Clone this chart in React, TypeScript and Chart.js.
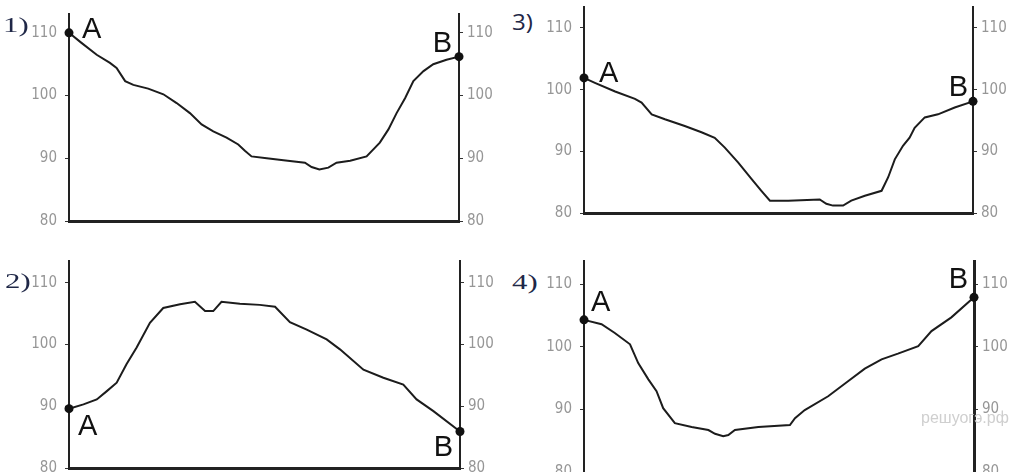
import React, { useEffect, useRef } from "react";
import { Chart, registerables } from "chart.js";

Chart.register(...registerables);

// ---- data ----
const yTicks = [80, 90, 100, 110];
const endLabels = ["A", "B"];
const panelNames = ["1)", "2)", "3)", "4)"];
const watermark = "решуогэ.рф";

// panel 1
const p1Dist = [0, 3.2, 7.1, 10.5, 12.2, 14.4, 16.5, 20.3, 24.2, 27.6, 31.0, 34.0, 37.0, 40.4, 43.4, 45.1, 46.8, 50.7, 55.0, 60.5, 62.2, 64.2, 66.5, 68.6, 72.1, 76.3, 79.7, 81.9, 84.0, 86.2, 88.3, 90.9, 93.4, 96.8, 100];
const p1Elev = [110, 108.4, 106.5, 105.2, 104.4, 102.3, 101.7, 101.1, 100.2, 98.8, 97.2, 95.4, 94.3, 93.3, 92.2, 91.2, 90.3, 90.0, 89.7, 89.3, 88.6, 88.2, 88.5, 89.3, 89.6, 90.3, 92.5, 94.6, 97.2, 99.6, 102.3, 103.9, 105.0, 105.7, 106.2];

// panel 2
const p2Dist = [0, 3.7, 7.1, 9.6, 12.2, 14.7, 17.3, 20.7, 24.1, 28.4, 32.2, 34.8, 36.9, 39.0, 43.7, 48.8, 52.7, 56.5, 60.8, 65.9, 69.3, 75.3, 80.4, 85.5, 88.9, 93.2, 100];
const p2Elev = [89.6, 90.3, 91.1, 92.4, 93.8, 96.8, 99.5, 103.5, 105.9, 106.5, 106.9, 105.4, 105.4, 106.9, 106.6, 106.4, 106.1, 103.6, 102.4, 100.8, 99.2, 95.9, 94.6, 93.5, 91.1, 89.2, 85.9];

// panel 3
const p3Dist = [0, 2.8, 8.0, 13.1, 14.8, 17.4, 20.8, 25.9, 30.2, 33.6, 36.2, 39.6, 43.1, 45.6, 47.8, 52.5, 60.6, 62.3, 64.0, 66.6, 68.7, 72.2, 76.5, 78.2, 79.9, 82.0, 83.7, 85.0, 87.6, 91.0, 95.3, 100];
const p3Elev = [101.9, 101.1, 99.7, 98.5, 97.9, 96.0, 95.2, 94.1, 93.1, 92.2, 90.6, 88.2, 85.5, 83.6, 82.0, 82.0, 82.2, 81.5, 81.2, 81.2, 82.0, 82.8, 83.6, 85.8, 88.7, 90.9, 92.2, 93.8, 95.5, 96.0, 97.1, 98.1];

// panel 4
const p4Dist = [0, 4.5, 7.9, 11.8, 13.9, 16.5, 18.6, 20.3, 23.3, 27.6, 31.9, 33.6, 35.7, 37.0, 38.7, 44.7, 52.8, 54.1, 56.6, 62.6, 67.7, 72.0, 76.3, 80.5, 85.7, 89.1, 94.2, 100];
const p4Elev = [104.3, 103.6, 102.2, 100.4, 97.4, 94.8, 92.9, 90.2, 87.8, 87.2, 86.7, 86.1, 85.7, 85.9, 86.7, 87.2, 87.5, 88.6, 89.9, 92.1, 94.5, 96.5, 98.0, 98.9, 100.1, 102.5, 104.7, 107.9];

// ---- layout (chart-area frames in page px) ----
const AXIS_W = 45;
const X_H = 14;
const PAD_T = 10;

type Frame = {
  L: number; R: number; T: number; B: number; yMax: number;
  ax: number; ay: number; bx: number; by: number;
  bottomLine: boolean; rightW: number;
  nameX: number; nameY: number; nameFont: string;
};

const SERIF = '"Liberation Serif", "DejaVu Serif", serif';
const SANS = '"Open Sans", "Liberation Sans", sans-serif';

const frames: Frame[] = [
  { L: 69, R: 459, T: 14, B: 221, yMax: 113, ax: 13, ay: 5, bx: -7, by: -5, bottomLine: true, rightW: 2, nameX: 3, nameY: 14, nameFont: SERIF },
  { L: 69, R: 460, T: 261, B: 468, yMax: 113.5, ax: 9, ay: 26, bx: -7, by: 24, bottomLine: true, rightW: 2, nameX: 5, nameY: 270, nameFont: SERIF },
  { L: 584, R: 973, T: 7, B: 213, yMax: 113.4, ax: 15, ay: 4, bx: -5, by: -5, bottomLine: true, rightW: 2, nameX: 512, nameY: 11, nameFont: SANS },
  { L: 584, R: 974, T: 261, B: 472, yMax: 113.7, ax: 7, ay: -9, bx: -6, by: -9, bottomLine: false, rightW: 3, nameX: 512, nameY: 271, nameFont: SERIF },
];

const series = [
  { dist: p1Dist, elev: p1Elev },
  { dist: p2Dist, elev: p2Elev },
  { dist: p3Dist, elev: p3Elev },
  { dist: p4Dist, elev: p4Elev },
];

const TICK_FONT = '"Liberation Sans Narrow", "DejaVu Sans Condensed", "Liberation Sans", sans-serif';

function makeChart(canvas: HTMLCanvasElement, idx: number) {
  const f = frames[idx];
  const s = series[idx];
  const n = s.dist.length;

  const abPlugin = {
    id: "abLabels" + idx,
    afterDatasetsDraw(chart: any) {
      const pts = chart.getDatasetMeta(0).data;
      const a = pts[0];
      const b = pts[pts.length - 1];
      const ctx = chart.ctx;
      ctx.save();
      ctx.font = '29px "Liberation Sans", Arial, sans-serif';
      ctx.fillStyle = "#111";
      ctx.textBaseline = "alphabetic";
      ctx.textAlign = "left";
      ctx.fillText(endLabels[0], a.x + f.ax, a.y + f.ay);
      ctx.textAlign = "right";
      ctx.fillText(endLabels[1], b.x + f.bx, b.y + f.by);
      ctx.restore();
    },
  };

  const yAxis = (position: "left" | "right", pad: number, bw: number) => ({
    type: "linear",
    position,
    min: 80,
    max: f.yMax,
    afterBuildTicks: (sc: any) => {
      sc.ticks = yTicks.map((v) => ({ value: v }));
    },
    ticks: {
      padding: pad,
      color: "#969696",
      font: { family: TICK_FONT, size: 15 },
    },
    grid: { display: true, drawOnChartArea: false, drawTicks: true, tickLength: 4, color: "#333", lineWidth: 1 },
    border: { display: true, color: "#222", width: bw },
    afterFit: (sc: any) => {
      sc.width = AXIS_W;
      sc.paddingTop = 0;
      sc.paddingBottom = 0;
    },
  });

  return new Chart(canvas, {
    type: "line",
    data: {
      datasets: [
        {
          data: s.dist.map((x, i) => ({ x, y: s.elev[i] })),
          borderColor: "#1c1c1c",
          borderWidth: 2,
          tension: 0,
          fill: false,
          clip: false,
          pointRadius: (c: any) => (c.dataIndex === 0 || c.dataIndex === n - 1 ? 4.5 : 0),
          pointBackgroundColor: "#111",
          pointBorderWidth: 0,
        } as any,
      ],
    },
    options: {
      animation: false,
      responsive: true,
      maintainAspectRatio: false,
      events: [],
      layout: { padding: { top: PAD_T, left: 0, right: 0, bottom: 0 } },
      plugins: { legend: { display: false }, tooltip: { enabled: false } },
      scales: {
        x: {
          type: "linear",
          min: 0,
          max: 100,
          ticks: { display: false },
          grid: { display: false },
          border: { display: f.bottomLine, color: "#222", width: 3 },
          afterFit: (sc: any) => {
            sc.height = X_H;
            sc.paddingLeft = 0;
            sc.paddingRight = 0;
          },
        },
        y: yAxis("left", 8, 2),
        y2: yAxis("right", 4, f.rightW),
      } as any,
    },
    plugins: [abPlugin],
  } as any);
}

export default function App() {
  const refs = [useRef<HTMLCanvasElement>(null), useRef<HTMLCanvasElement>(null), useRef<HTMLCanvasElement>(null), useRef<HTMLCanvasElement>(null)];

  useEffect(() => {
    const charts = refs.map((r, i) => (r.current ? makeChart(r.current, i) : null));
    return () => {
      charts.forEach((c) => c && c.destroy());
    };
  }, []);

  return (
    <div style={{ position: "fixed", left: 0, top: 0, width: 1011, height: 472, overflow: "hidden", background: "#fff" }}>
      {frames.map((f, i) => {
        const x = f.L - AXIS_W;
        const y = f.T - PAD_T;
        const w = f.R - f.L + 2 * AXIS_W;
        const h = f.B - f.T + PAD_T + X_H;
        return (
          <div key={"c" + i} style={{ position: "absolute", left: x, top: y, width: w, height: h }}>
            <canvas ref={refs[i]} />
          </div>
        );
      })}
      {frames.map((f, i) => (
        <span
          key={"n" + i}
          style={{
            position: "absolute",
            left: f.nameX,
            top: f.nameY,
            fontFamily: f.nameFont,
            fontSize: i === 2 ? 21 : 22,
            fontWeight: 400,
            color: "#1f2747",
            lineHeight: "22px",
            whiteSpace: "nowrap",
            transform: i === 2 ? "scale(1.15, 1)" : "scale(1.4, 1)",
            transformOrigin: "left top",
          }}
        >
          {panelNames[i]}
        </span>
      ))}
      <span
        style={{
          position: "absolute",
          left: 921,
          top: 409,
          fontFamily: '"Liberation Sans", sans-serif',
          fontSize: 16,
          color: "#cfcfcf",
          whiteSpace: "nowrap",
        }}
      >
        {watermark}
      </span>
    </div>
  );
}
